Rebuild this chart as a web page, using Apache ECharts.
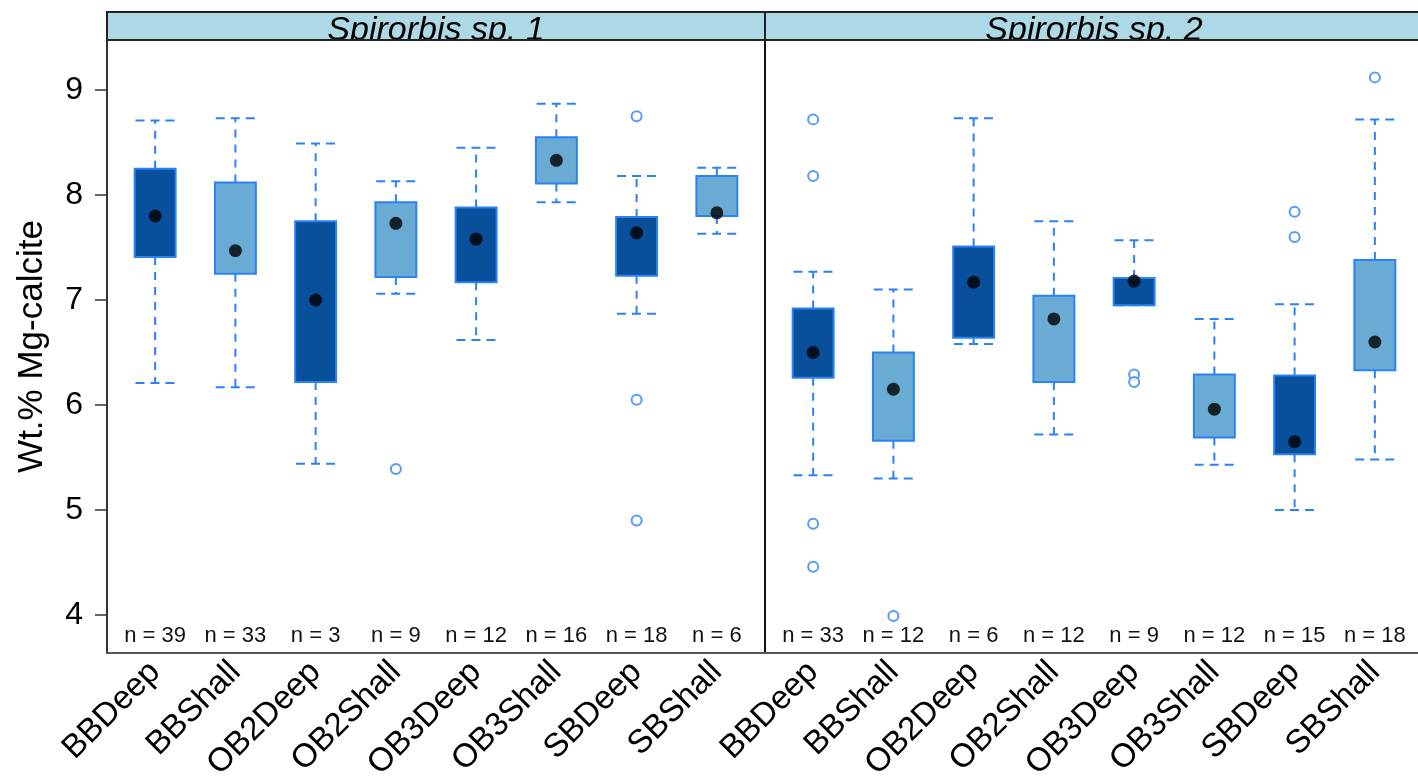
<!DOCTYPE html>
<html>
<head>
<meta charset="utf-8">
<script src="https://cdn.jsdelivr.net/npm/echarts@6/dist/echarts.min.js"></script>
<style>
html,body{margin:0;padding:0;background:#fff;}
#chart{width:1418px;height:780px;}
</style>
</head>
<body>
<div id="chart"></div>
<script>
// ---------- data ----------
const categories = ['BBDeep','BBShall','OB2Deep','OB2Shall','OB3Deep','OB3Shall','SBDeep','SBShall'];
const panelTitles = ['Spirorbis sp. 1', 'Spirorbis sp. 2'];
const yTicks = [4, 5, 6, 7, 8, 9];
const yTitle = 'Wt.% Mg-calcite';
// box tone per category: 0 = dark (Deep), 1 = light (Shall)
const boxTone = [0, 1, 0, 1, 0, 1, 0, 1];

// [lower whisker, Q1, median, Q3, upper whisker]
const sp1Stats = [
  [6.21, 7.41, 7.80, 8.25, 8.71],
  [6.17, 7.25, 7.47, 8.12, 8.73],
  [5.44, 6.22, 7.00, 7.75, 8.49],
  [7.06, 7.22, 7.73, 7.93, 8.13],
  [6.62, 7.17, 7.58, 7.88, 8.45],
  [7.93, 8.11, 8.33, 8.55, 8.87],
  [6.87, 7.23, 7.64, 7.79, 8.18],
  [7.63, 7.80, 7.83, 8.18, 8.26]
];
const sp2Stats = [
  [5.33, 6.26, 6.50, 6.92, 7.27],
  [5.30, 5.66, 6.15, 6.50, 7.10],
  [6.58, 6.64, 7.17, 7.51, 8.73],
  [5.72, 6.22, 6.82, 7.04, 7.75],
  [6.95, 6.95, 7.18, 7.21, 7.57],
  [5.43, 5.69, 5.96, 6.29, 6.82],
  [5.00, 5.53, 5.65, 6.28, 6.96],
  [5.48, 6.33, 6.60, 7.38, 8.72]
];
// outliers: [category index, value]
const sp1Outliers = [[3, 5.39], [6, 8.75], [6, 6.05], [6, 4.90]];
const sp2Outliers = [[0, 8.72], [0, 8.18], [0, 4.87], [0, 4.46], [1, 3.99],
                     [4, 6.29], [4, 6.22], [6, 7.84], [6, 7.60], [7, 9.12]];
// sample sizes
const sp1N = [39, 33, 3, 9, 12, 16, 18, 6];
const sp2N = [33, 12, 6, 12, 9, 12, 15, 18];
const nLabelLevel = 3.8;

// ---------- styling ----------
const DARK = '#08509b';
const LIGHT = '#6aabd3';
const EDGE = '#2a82f5';
const FONT = 'Liberation Sans, Arial, Helvetica, sans-serif';
const Y_MIN = 3.638, Y_MAX = 9.476;
const X_MIN = 0.4, X_MAX = 8.6;
const GRID_TOP = 40, GRID_H = 613, PANEL_W = 658;
const gridLefts = [107, 765];

const chart = echarts.init(document.getElementById('chart'));

function boxRender(params, api) {
  const x = api.value(0);
  const lo = api.value(1), q1 = api.value(2), q3 = api.value(4), hi = api.value(5);
  const tone = api.value(6);
  const boxW = api.size([0.51, 0])[0];
  const capW = api.size([0.49, 0])[0];
  const pLo = api.coord([x, lo]);
  const pQ1 = api.coord([x, q1]);
  const pQ3 = api.coord([x, q3]);
  const pHi = api.coord([x, hi]);
  const cx = pLo[0];
  const dash = {stroke: EDGE, lineWidth: 2, lineDash: [8, 7]};
  const capDash = {stroke: EDGE, lineWidth: 2, lineDash: [9, 6]};
  return {
    type: 'group',
    children: [
      {type: 'line', shape: {x1: cx, y1: pQ3[1], x2: cx, y2: pHi[1]}, style: dash},
      {type: 'line', shape: {x1: cx, y1: pQ1[1], x2: cx, y2: pLo[1]}, style: dash},
      {type: 'line', shape: {x1: cx - capW / 2, y1: pHi[1], x2: cx + capW / 2, y2: pHi[1]}, style: capDash},
      {type: 'line', shape: {x1: cx - capW / 2, y1: pLo[1], x2: cx + capW / 2, y2: pLo[1]}, style: capDash},
      {type: 'rect', shape: {x: cx - boxW / 2, y: pQ3[1], width: boxW, height: pQ1[1] - pQ3[1]},
        style: {fill: tone === 0 ? DARK : LIGHT, stroke: EDGE, lineWidth: 2}}
    ]
  };
}

function nRender(params, api) {
  const p = api.coord([api.value(0), api.value(1)]);
  return {
    type: 'text',
    x: p[0], y: p[1],
    style: {text: 'n = ' + api.value(2), fill: '#111', font: '22px ' + FONT,
            align: 'center', verticalAlign: 'middle'}
  };
}

const statsList = [sp1Stats, sp2Stats];
const outList = [sp1Outliers, sp2Outliers];
const nList = [sp1N, sp2N];

const grids = [], xAxes = [], yAxes = [], series = [];
for (let g = 0; g < 2; g++) {
  grids.push({left: gridLefts[g], top: GRID_TOP, width: PANEL_W, height: GRID_H,
              containLabel: false, outerBoundsMode: 'none'});
  xAxes.push({
    type: 'value', gridIndex: g, min: X_MIN, max: X_MAX,
    axisLine: {show: true, onZero: false, lineStyle: {color: '#555', width: 2}},
    axisTick: {show: false},
    splitLine: {show: false},
    axisLabel: {
      customValues: categories.map((c, i) => i + 1),
      formatter: v => categories[Math.round(v) - 1] || '',
      rotate: 45, fontSize: 33, color: '#000', fontFamily: FONT, margin: 14
    }
  });
  yAxes.push({
    type: 'value', gridIndex: g, min: Y_MIN, max: Y_MAX,
    name: g === 0 ? yTitle : '',
    nameLocation: 'middle', nameGap: 57,
    nameTextStyle: {fontSize: 35, color: '#000', fontFamily: FONT},
    axisLine: {show: true, lineStyle: {color: g === 0 ? '#333' : '#111', width: 2}},
    axisTick: {show: g === 0, customValues: yTicks, length: 12, lineStyle: {color: '#333', width: 1.5}},
    axisLabel: {show: g === 0, customValues: yTicks, fontSize: 32, color: '#000', fontFamily: FONT, margin: 24},
    splitLine: {show: false}
  });
  const stats = statsList[g];
  series.push({
    type: 'custom', xAxisIndex: g, yAxisIndex: g,
    renderItem: boxRender,
    encode: {x: 0, y: [1, 2, 3, 4, 5]},
    data: stats.map((s, i) => [i + 1, s[0], s[1], s[2], s[3], s[4], boxTone[i]]),
    z: 2, silent: true
  });
  series.push({
    type: 'scatter', xAxisIndex: g, yAxisIndex: g,
    data: stats.map((s, i) => [i + 1, s[2]]),
    symbol: 'circle', symbolSize: 13,
    itemStyle: {color: '#000'}, z: 4, silent: true
  });
  series.push({
    type: 'scatter', xAxisIndex: g, yAxisIndex: g,
    data: outList[g].map(o => [o[0] + 1, o[1]]),
    symbol: 'circle', symbolSize: 10,
    itemStyle: {color: '#fff', borderColor: EDGE, borderWidth: 2}, z: 4, silent: true
  });
  series.push({
    type: 'custom', xAxisIndex: g, yAxisIndex: g,
    renderItem: nRender,
    encode: {x: 0, y: 1},
    data: nList[g].map((n, i) => [i + 1, nLabelLevel, n]),
    z: 3, silent: true
  });
}

const graphics = [];
for (let g = 0; g < 2; g++) {
  const L = gridLefts[g];
  graphics.push({type: 'rect', z: 10, shape: {x: L, y: 12, width: PANEL_W, height: 28},
    style: {fill: '#add8e6', stroke: null}});
  graphics.push({type: 'text', z: 11, x: L + PANEL_W / 2, y: 31,
    style: {text: panelTitles[g], font: 'italic 34px ' + FONT, fill: '#000',
            align: 'center', verticalAlign: 'middle'}});
  graphics.push({type: 'rect', z: 12, shape: {x: L + 1.5, y: 41, width: PANEL_W - 3, height: 12},
    style: {fill: '#fff', stroke: null}});
  graphics.push({type: 'rect', z: 13, shape: {x: L, y: 12, width: PANEL_W, height: 28},
    style: {fill: null, stroke: '#222', lineWidth: 2}});
}

chart.setOption({
  animation: false,
  backgroundColor: '#fff',
  grid: grids,
  xAxis: xAxes,
  yAxis: yAxes,
  series: series,
  graphic: graphics
});
</script>
</body>
</html>
